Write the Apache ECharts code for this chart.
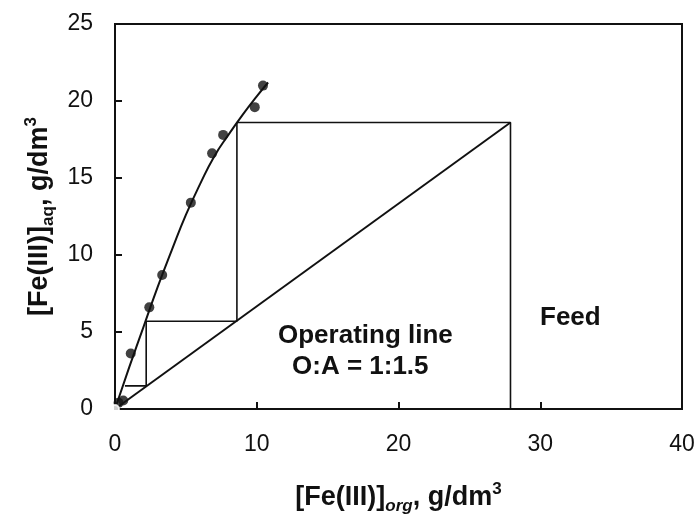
<!DOCTYPE html>
<html>
<head>
<meta charset="utf-8">
<script src="https://cdn.jsdelivr.net/npm/echarts@6/dist/echarts.min.js"></script>
<style>html,body{margin:0;padding:0;background:#fff}#c{width:700px;height:519px}</style>
</head>
<body>
<div id="c"></div>
<script>
// Equilibrium data points [Fe(III)]org vs [Fe(III)]aq
const eqX = [0.25, 0.58, 1.11, 2.42, 3.33, 5.35, 6.85, 7.63, 9.86, 10.44];
const eqY = [0.4, 0.55, 3.6, 6.6, 8.7, 13.4, 16.6, 17.8, 19.6, 21.0];
// Smoothed isotherm curve
const curveX = [0, 1, 2, 3, 4, 5, 6, 7, 8, 9, 10, 10.8];
const curveY = [0, 2.7, 5.3, 7.9, 10.3, 12.6, 14.6, 16.4, 17.8, 19.1, 20.3, 21.2];
// Operating line O:A = 1:1.5
const opX = [0, 27.9];
const opY = [0, 18.6];
// McCabe-Thiele staircase
const stairX = [27.9, 27.9, 8.6, 8.6, 2.2, 2.2, 0.7];
const stairY = [0, 18.6, 18.6, 5.7, 5.7, 1.5, 1.5];
// Open point at origin
const originX = [0];
const originY = [0];
// Axis ticks
const xTicks = [0, 10, 20, 30, 40];
const yTicks = [0, 5, 10, 15, 20, 25];

const zip = (a, b) => a.map((v, i) => [v, b[i]]);
const chart = echarts.init(document.getElementById('c'), null, {renderer: 'canvas'});
const font = 'Arial, "Liberation Sans", Helvetica, sans-serif';
const titleRich = {
  a: {fontSize: 27, fontWeight: 'bold', fontFamily: font, color: '#111', lineHeight: 34},
  sub: {fontSize: 17, fontWeight: 'bold', fontFamily: font, color: '#111', lineHeight: 34, verticalAlign: 'bottom', padding: [12, 0, 0, 0]},
  subi: {fontSize: 17, fontStyle: 'italic', fontWeight: 'bold', fontFamily: font, color: '#111', lineHeight: 34, verticalAlign: 'bottom', padding: [12, 0, 0, 0]},
  sup: {fontSize: 17, fontWeight: 'bold', fontFamily: font, color: '#111', lineHeight: 34, verticalAlign: 'top', padding: [0, 0, 14, 0]}
};

chart.setOption({
  animation: false,
  backgroundColor: '#fff',
  grid: {left: 115, right: 18, top: 24, bottom: 110, containLabel: false, outerBoundsMode: 'none',
    show: true, borderColor: '#111', borderWidth: 2, backgroundColor: 'transparent'},
  xAxis: {
    type: 'value', min: xTicks[0], max: xTicks[xTicks.length - 1], interval: 10,
    name: '{a|[Fe(III)]}{subi|org}{a|, g/dm}{sup|3}',
    nameLocation: 'middle', nameGap: 72,
    nameTextStyle: {rich: titleRich},
    axisLine: {show: true, onZero: false, lineStyle: {color: '#111', width: 2}},
    axisTick: {show: true, inside: true, length: 7, lineStyle: {color: '#111', width: 2}},
    axisLabel: {margin: 24, fontSize: 23, fontFamily: font, color: '#111',
      formatter: v => xTicks.includes(v) ? String(v) : ''},
    splitLine: {show: false}
  },
  yAxis: {
    type: 'value', min: yTicks[0], max: yTicks[yTicks.length - 1], interval: 5,
    name: '{a|[Fe(III)]}{sub|aq}{a|, g/dm}{sup|3}',
    nameLocation: 'middle', nameGap: 50, nameRotate: 90,
    nameTextStyle: {rich: titleRich},
    axisLine: {show: true, onZero: false, lineStyle: {color: '#111', width: 2}},
    axisTick: {show: true, inside: true, length: 7, lineStyle: {color: '#111', width: 2}},
    axisLabel: {margin: 22, fontSize: 23, fontFamily: font, color: '#111',
      formatter: v => yTicks.includes(v) ? String(v) : ''},
    splitLine: {show: false}
  },
  series: [
    {type: 'line', data: zip(stairX, stairY), showSymbol: false, symbol: 'none',
      lineStyle: {color: '#111', width: 1.6}, z: 2},
    {type: 'line', data: zip(opX, opY), showSymbol: false, symbol: 'none',
      lineStyle: {color: '#111', width: 2}, z: 3},
    {type: 'line', data: zip(curveX, curveY), smooth: true, showSymbol: false, symbol: 'none',
      lineStyle: {color: '#111', width: 2}, z: 4},
    {type: 'scatter', data: zip(eqX, eqY), symbol: 'circle', symbolSize: 10,
      itemStyle: {color: '#111'}, z: 5},
    {type: 'scatter', data: zip(originX, originY), symbol: 'emptyCircle', symbolSize: 8,
      itemStyle: {color: '#fff', borderColor: '#111', borderWidth: 1.5}, z: 6}
  ],
  graphic: [
    {type: 'text', left: 278, top: 323, style: {text: 'Operating line', font: 'bold 26px ' + font, fill: '#111'}},
    {type: 'text', left: 292, top: 354, style: {text: 'O:A = 1:1.5', font: 'bold 26px ' + font, fill: '#111'}},
    {type: 'text', left: 540, top: 305, style: {text: 'Feed', font: 'bold 26px ' + font, fill: '#111'}}
  ]
});
</script>
</body>
</html>
